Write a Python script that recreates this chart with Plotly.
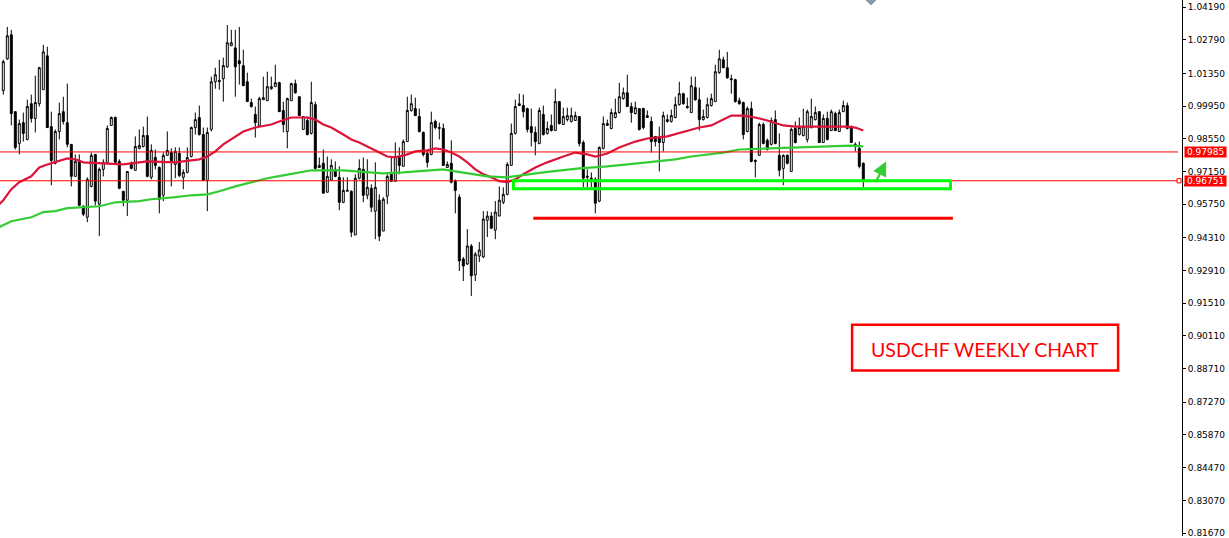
import plotly.graph_objects as go

# ---------------- data (USDCHF weekly) ----------------
opens = [
    1.0061, 1.0197, 1.0300, 0.9971, 0.9835, 0.9924, 0.9852, 1.0005, 0.9942, 1.0005,
    1.0065, 1.0210, 0.9907, 0.9750, 0.9886, 0.9971, 0.9924, 0.9831, 0.9694, 0.9762,
    0.9566, 0.9519, 0.9651, 0.9788, 0.9575, 0.9724, 0.9754, 0.9912, 0.9946, 0.9758,
    0.9630, 0.9592, 0.9750, 0.9720, 0.9814, 0.9822, 0.9869, 0.9690, 0.9775, 0.9732,
    0.9613, 0.9784, 0.9796, 0.9745, 0.9792, 0.9690, 0.9711, 0.9779, 0.9903, 0.9946,
    0.9873, 0.9677, 0.9895, 1.0099, 1.0099, 1.0112, 1.0163, 1.0253, 1.0244, 1.0189,
    1.0168, 1.0099, 1.0010, 0.9959, 0.9912, 1.0022, 1.0018, 1.0069, 1.0078, 1.0095,
    0.9976, 0.9886, 1.0018, 1.0091, 1.0035, 0.9895, 0.9933, 0.9878, 1.0001, 0.9732,
    0.9750, 0.9626, 0.9677, 0.9724, 0.9690, 0.9583, 0.9630, 0.9630, 0.9443, 0.9686,
    0.9724, 0.9613, 0.9643, 0.9545, 0.9592, 0.9460, 0.9609, 0.9703, 0.9673, 0.9775,
    0.9737, 0.9843, 0.9976, 0.9984, 0.9950, 0.9882, 0.9792, 0.9788, 0.9929, 0.9899,
    0.9899, 0.9732, 0.9750, 0.9673, 0.9605, 0.9340, 0.9319, 0.9396, 0.9272, 0.9353,
    0.9349, 0.9506, 0.9524, 0.9464, 0.9524, 0.9583, 0.9617, 0.9741, 0.9878, 0.9997,
    0.9997, 0.9984, 0.9907, 0.9882, 0.9835, 0.9959, 0.9878, 0.9912, 0.9890, 1.0014,
    0.9916, 0.9937, 0.9929, 0.9933, 0.9950, 0.9839, 0.9690, 0.9681, 0.9681, 0.9588,
    0.9814, 0.9912, 0.9899, 0.9946, 0.9967, 1.0027, 1.0052, 0.9993, 0.9963, 0.9984,
    0.9984, 0.9946, 0.9929, 0.9865, 0.9860, 0.9839, 0.9929, 0.9929, 0.9946, 1.0001,
    1.0048, 0.9988, 0.9967, 1.0074, 1.0022, 0.9937, 0.9946, 0.9997, 1.0014, 1.0138,
    1.0193, 1.0159, 1.0112, 1.0108, 1.0018, 1.0010, 0.9886, 0.9984, 0.9762, 0.9784,
    0.9916, 0.9848, 0.9831, 0.9937, 0.9784, 0.9728, 0.9784, 0.9715, 0.9899, 0.9873,
    0.9869, 0.9852, 0.9903, 0.9937, 0.9971, 0.9839, 0.9942, 0.9890, 0.9963, 0.9886,
    0.9971, 0.9997, 0.9907, 0.9831, 0.9814, 0.9750,
]
highs = [
    1.0193, 1.0334, 1.0321, 0.9971, 0.9937, 0.9967, 1.0022, 1.0044, 1.0125, 1.0163,
    1.0257, 1.0249, 0.9971, 0.9895, 1.0010, 1.0035, 1.0091, 0.9831, 0.9788, 0.9788,
    0.9570, 0.9690, 0.9796, 0.9788, 0.9732, 0.9767, 0.9912, 0.9950, 0.9950, 0.9767,
    0.9630, 0.9715, 0.9758, 0.9865, 0.9895, 0.9907, 0.9950, 0.9831, 0.9809, 0.9737,
    0.9796, 0.9886, 0.9814, 0.9818, 0.9818, 0.9724, 0.9818, 0.9907, 0.9967, 0.9997,
    0.9903, 0.9903, 1.0121, 1.0159, 1.0193, 1.0202, 1.0342, 1.0321, 1.0321, 1.0334,
    1.0236, 1.0138, 1.0027, 0.9993, 1.0035, 1.0121, 1.0142, 1.0121, 1.0172, 1.0099,
    1.0014, 1.0031, 1.0095, 1.0108, 1.0035, 0.9950, 0.9950, 1.0099, 1.0014, 0.9775,
    0.9809, 0.9779, 0.9767, 0.9758, 0.9737, 0.9690, 0.9690, 0.9634, 0.9703, 0.9767,
    0.9775, 0.9767, 0.9660, 0.9754, 0.9617, 0.9605, 0.9703, 0.9775, 0.9839, 0.9818,
    0.9852, 1.0035, 1.0044, 1.0031, 0.9984, 0.9886, 0.9801, 0.9971, 0.9937, 0.9924,
    0.9920, 0.9758, 0.9848, 0.9681, 0.9617, 0.9349, 0.9468, 0.9404, 0.9370, 0.9413,
    0.9545, 0.9545, 0.9541, 0.9588, 0.9651, 0.9647, 0.9754, 0.9920, 1.0022, 1.0048,
    1.0044, 0.9988, 0.9984, 0.9907, 0.9988, 0.9997, 0.9929, 0.9959, 1.0069, 1.0014,
    0.9988, 0.9988, 0.9988, 0.9971, 0.9950, 0.9848, 0.9724, 0.9711, 0.9690, 0.9822,
    0.9950, 0.9937, 0.9984, 1.0027, 1.0095, 1.0074, 1.0129, 1.0010, 1.0014, 0.9984,
    0.9988, 0.9976, 0.9950, 0.9865, 0.9907, 0.9971, 0.9959, 0.9980, 1.0035, 1.0099,
    1.0052, 1.0031, 1.0121, 1.0121, 1.0074, 0.9980, 1.0031, 1.0048, 1.0172, 1.0236,
    1.0206, 1.0227, 1.0129, 1.0112, 1.0031, 1.0014, 0.9993, 1.0014, 0.9767, 0.9924,
    0.9924, 0.9856, 0.9946, 0.9976, 0.9878, 0.9788, 0.9788, 0.9903, 0.9929, 0.9946,
    0.9984, 0.9980, 1.0027, 0.9993, 0.9971, 0.9959, 0.9971, 0.9980, 0.9971, 0.9980,
    1.0018, 1.0010, 0.9912, 0.9839, 0.9843, 0.9754,
]
lows = [
    1.0044, 1.0193, 0.9912, 0.9809, 0.9788, 0.9843, 0.9848, 0.9924, 0.9882, 0.9993,
    1.0065, 0.9903, 0.9656, 0.9745, 0.9852, 0.9916, 0.9818, 0.9651, 0.9694, 0.9566,
    0.9524, 0.9498, 0.9647, 0.9570, 0.9438, 0.9694, 0.9754, 0.9912, 0.9745, 0.9639,
    0.9566, 0.9524, 0.9724, 0.9720, 0.9809, 0.9818, 0.9690, 0.9681, 0.9724, 0.9536,
    0.9588, 0.9784, 0.9651, 0.9686, 0.9690, 0.9639, 0.9707, 0.9775, 0.9873, 0.9869,
    0.9677, 0.9545, 0.9886, 1.0069, 1.0065, 1.0014, 1.0159, 1.0253, 1.0035, 1.0087,
    1.0082, 1.0014, 0.9988, 0.9860, 0.9912, 1.0022, 1.0018, 1.0065, 1.0078, 0.9971,
    0.9882, 0.9814, 1.0018, 1.0048, 0.9954, 0.9895, 0.9869, 0.9873, 0.9724, 0.9732,
    0.9622, 0.9626, 0.9677, 0.9690, 0.9549, 0.9579, 0.9630, 0.9434, 0.9443, 0.9681,
    0.9583, 0.9596, 0.9541, 0.9425, 0.9417, 0.9460, 0.9575, 0.9673, 0.9673, 0.9703,
    0.9737, 0.9843, 0.9971, 0.9954, 0.9882, 0.9779, 0.9732, 0.9784, 0.9895, 0.9852,
    0.9741, 0.9732, 0.9664, 0.9536, 0.9289, 0.9246, 0.9315, 0.9182, 0.9246, 0.9327,
    0.9344, 0.9434, 0.9468, 0.9425, 0.9524, 0.9575, 0.9613, 0.9741, 0.9873, 0.9997,
    0.9946, 0.9882, 0.9822, 0.9784, 0.9831, 0.9869, 0.9873, 0.9886, 0.9890, 0.9916,
    0.9916, 0.9929, 0.9924, 0.9933, 0.9822, 0.9647, 0.9647, 0.9647, 0.9536, 0.9583,
    0.9809, 0.9912, 0.9895, 0.9942, 0.9963, 1.0022, 0.9993, 0.9924, 0.9959, 0.9890,
    0.9895, 0.9946, 0.9796, 0.9822, 0.9715, 0.9801, 0.9924, 0.9924, 0.9942, 0.9997,
    1.0001, 0.9984, 0.9967, 1.0018, 0.9890, 0.9933, 0.9942, 0.9993, 1.0014, 1.0133,
    1.0159, 1.0112, 1.0048, 1.0010, 1.0001, 0.9852, 0.9882, 0.9754, 0.9690, 0.9784,
    0.9831, 0.9805, 0.9826, 0.9831, 0.9694, 0.9656, 0.9745, 0.9715, 0.9835, 0.9869,
    0.9865, 0.9839, 0.9899, 0.9933, 0.9839, 0.9839, 0.9848, 0.9890, 0.9890, 0.9886,
    0.9971, 0.9895, 0.9839, 0.9801, 0.9728, 0.9647,
]
closes = [
    1.0185, 1.0296, 0.9963, 0.9818, 0.9920, 0.9878, 0.9993, 0.9942, 1.0010, 1.0159,
    1.0227, 0.9903, 0.9762, 0.9886, 0.9963, 0.9929, 0.9831, 0.9694, 0.9758, 0.9570,
    0.9532, 0.9681, 0.9784, 0.9588, 0.9724, 0.9754, 0.9899, 0.9946, 0.9754, 0.9643,
    0.9592, 0.9715, 0.9728, 0.9822, 0.9826, 0.9869, 0.9694, 0.9805, 0.9741, 0.9596,
    0.9784, 0.9805, 0.9754, 0.9801, 0.9698, 0.9711, 0.9775, 0.9903, 0.9937, 0.9873,
    0.9677, 0.9882, 1.0099, 1.0129, 1.0104, 1.0168, 1.0266, 1.0266, 1.0163, 1.0176,
    1.0082, 1.0014, 0.9993, 0.9924, 1.0027, 1.0031, 1.0078, 1.0078, 1.0095, 0.9971,
    0.9916, 1.0027, 1.0091, 1.0052, 0.9954, 0.9950, 0.9873, 1.0010, 0.9728, 0.9741,
    0.9622, 0.9694, 0.9741, 0.9694, 0.9583, 0.9634, 0.9634, 0.9455, 0.9686, 0.9728,
    0.9613, 0.9647, 0.9562, 0.9647, 0.9438, 0.9596, 0.9694, 0.9673, 0.9779, 0.9741,
    0.9843, 0.9976, 1.0005, 0.9954, 0.9886, 0.9788, 0.9754, 0.9924, 0.9903, 0.9903,
    0.9741, 0.9745, 0.9669, 0.9634, 0.9332, 0.9310, 0.9396, 0.9268, 0.9361, 0.9379,
    0.9511, 0.9524, 0.9472, 0.9541, 0.9592, 0.9617, 0.9745, 0.9878, 0.9993, 1.0005,
    0.9971, 0.9895, 0.9882, 0.9843, 0.9976, 0.9873, 0.9899, 0.9890, 1.0014, 0.9920,
    0.9950, 0.9954, 0.9954, 0.9954, 0.9835, 0.9686, 0.9694, 0.9686, 0.9579, 0.9818,
    0.9920, 0.9920, 0.9967, 0.9967, 1.0035, 1.0052, 0.9993, 0.9967, 0.9988, 0.9895,
    0.9903, 0.9954, 0.9843, 0.9843, 0.9839, 0.9954, 0.9937, 0.9954, 1.0001, 1.0048,
    1.0005, 0.9993, 1.0082, 1.0022, 0.9937, 0.9950, 1.0001, 1.0027, 1.0142, 1.0197,
    1.0159, 1.0116, 1.0108, 1.0014, 1.0005, 0.9873, 0.9984, 0.9758, 0.9758, 0.9916,
    0.9835, 0.9809, 0.9933, 0.9835, 0.9720, 0.9784, 0.9750, 0.9895, 0.9839, 0.9903,
    0.9907, 0.9971, 0.9950, 0.9967, 0.9839, 0.9942, 0.9852, 0.9971, 0.9890, 0.9967,
    0.9997, 0.9899, 0.9839, 0.9822, 0.9737, 0.96751,
]
bars = list(range(len(opens)))

# slow (red) and long (green) moving averages, read at selected bars
red_ma_bar = [-1, 0, 2, 4, 7, 9, 11, 14, 16, 18, 20, 30, 36, 43, 49, 51, 53, 55, 58, 60,
              63, 67, 69, 72, 76, 78, 80, 82, 85, 87, 89, 91, 94, 96, 98, 101, 103, 106,
              108, 110, 112, 114, 116, 118, 120, 122, 124, 126, 128, 130, 133, 136, 140,
              143, 146, 148, 151, 154, 158, 161, 166, 171, 174, 177, 180, 182, 185, 188,
              191, 195, 198, 211, 213, 215]
red_ma_val = [0.9575, 0.9592, 0.9639, 0.9669, 0.9694, 0.9732, 0.9745, 0.9762, 0.9771, 0.9767,
              0.9754, 0.9745, 0.9758, 0.9754, 0.9767, 0.9779, 0.9801, 0.9831, 0.9865, 0.9886,
              0.9903, 0.9916, 0.9929, 0.9946, 0.9946, 0.9937, 0.9916, 0.9903, 0.9873, 0.9852,
              0.9839, 0.9822, 0.9796, 0.9779, 0.9775, 0.9788, 0.9801, 0.9805, 0.9814, 0.9809,
              0.9796, 0.9779, 0.9754, 0.9724, 0.9703, 0.9690, 0.9673, 0.9669, 0.9681, 0.9703,
              0.9732, 0.9754, 0.9779, 0.9796, 0.9788, 0.9779, 0.9792, 0.9818, 0.9843, 0.9856,
              0.9865, 0.9890, 0.9903, 0.9912, 0.9937, 0.9954, 0.9954, 0.9946, 0.9933, 0.9912,
              0.9907, 0.9907, 0.9903, 0.9890]
green_ma_bar = [-1, 0, 2, 7, 10, 13, 16, 24, 28, 34, 37, 43, 47, 51, 54, 58, 62, 66, 70, 73,
                77, 85, 90, 95, 100, 106, 110, 113, 117, 121, 126, 129, 135, 144, 151, 161,
                168, 172, 180, 184, 191, 198, 206, 212, 215]
green_ma_val = [0.9477, 0.9485, 0.9502, 0.9519, 0.9541, 0.9545, 0.9558, 0.9566, 0.9583, 0.9588,
                0.9596, 0.9605, 0.9613, 0.9617, 0.9630, 0.9651, 0.9669, 0.9686, 0.9698, 0.9707,
                0.9720, 0.9720, 0.9715, 0.9707, 0.9711, 0.9720, 0.9724, 0.9715, 0.9703, 0.9694,
                0.9690, 0.9698, 0.9711, 0.9728, 0.9737, 0.9754, 0.9767, 0.9779, 0.9796, 0.9809,
                0.9814, 0.9818, 0.9822, 0.9826, 0.9822]

tick_vals = [1.04190, 1.02790, 1.01350, 0.99950, 0.98550, 0.97150, 0.95750, 0.94310,
             0.92910, 0.91510, 0.90110, 0.88710, 0.87270, 0.85870, 0.84470, 0.83070, 0.81670]
tick_text = ["%.5f" % v for v in tick_vals]

level_line = 0.97985
price_line = 0.96751
support_zone = (0.96408, 0.96749)
support_zone_bars = (127.55, 236.8)
target_line = 0.95150
target_bars = (132.5, 237.4)

# ---------------- figure ----------------
W, H = 1229, 538
R = 47
PW = W - R  # plot width in px

fig = go.Figure()
fig.add_trace(go.Candlestick(
    x=bars, open=opens, high=highs, low=lows, close=closes,
    increasing=dict(fillcolor="#ffffff", line=dict(color="#000000", width=1)),
    decreasing=dict(fillcolor="#000000", line=dict(color="#000000", width=1)),
    whiskerwidth=0, hoverinfo="skip", showlegend=False,
))
fig.add_trace(go.Scatter(x=red_ma_bar, y=red_ma_val, mode="lines",
                         line=dict(color="#dc143c", width=2.2), hoverinfo="skip", showlegend=False))
fig.add_trace(go.Scatter(x=green_ma_bar, y=green_ma_val, mode="lines",
                         line=dict(color="#32cd32", width=2.2), hoverinfo="skip", showlegend=False))

def px_x(p):
    return p / PW

shapes = []
# horizontal levels
for lv in (level_line, price_line):
    shapes.append(dict(type="line", xref="paper", yref="y", x0=0, x1=px_x(1178), y0=lv, y1=lv,
                       line=dict(color="#ff0000", width=1), layer="above"))
# small square on price line near axis
shapes.append(dict(type="rect", xref="paper", yref="y", x0=px_x(1177), x1=px_x(1181),
                   y0=price_line - 0.0009, y1=price_line + 0.0009,
                   line=dict(color="#ff0000", width=1), fillcolor="#ffffff"))
# support zone (green box)
shapes.append(dict(type="rect", xref="x", yref="y",
                   x0=support_zone_bars[0], x1=support_zone_bars[1],
                   y0=support_zone[0], y1=support_zone[1],
                   line=dict(color="#00ff00", width=3), fillcolor="rgba(0,0,0,0)"))
# target line (red)
shapes.append(dict(type="line", xref="x", yref="y", x0=target_bars[0], x1=target_bars[1],
                   y0=target_line, y1=target_line, line=dict(color="#ff0000", width=3)))
# title box
shapes.append(dict(type="rect", xref="x", yref="y", x0=212.2, x1=278.7, y0=0.88624, y1=0.90586,
                   line=dict(color="#ff0000", width=2.5), fillcolor="rgba(0,0,0,0)"))
# small chevron marker at top
shapes.append(dict(type="path", xref="paper", yref="paper",
                   path="M %f 1 L %f %f L %f 1 Z" % (px_x(866), px_x(871), 1 - 5 / H, px_x(876)),
                   line=dict(color="#8a9bb0", width=1), fillcolor="#8a9bb0"))
# black underline of current price tag
shapes.append(dict(type="line", xref="paper", yref="y", x0=px_x(1184), x1=px_x(1225),
                   y0=0.96557, y1=0.96557, line=dict(color="#000000", width=1.5)))

annotations = [
    dict(xref="paper", yref="y", x=px_x(1184), y=level_line, xanchor="left", yanchor="middle",
         text="0.97985", showarrow=False, bgcolor="#ff0000", font=dict(color="#ffffff", size=9,
         family="DejaVu Sans"), width=41, height=10, borderpad=0),
    dict(xref="paper", yref="y", x=px_x(1184), y=price_line, xanchor="left", yanchor="middle",
         text="0.96751", showarrow=False, bgcolor="#ff0000", font=dict(color="#ffffff", size=9,
         family="DejaVu Sans"), width=41, height=10, borderpad=0),
    dict(xref="x", yref="y", x=245.4, y=0.89541, text="USDCHF WEEKLY CHART", showarrow=False,
         font=dict(color="#ff0000", size=19.5, family="Lato"), xanchor="center", yanchor="middle"),
    dict(xref="x", yref="y", x=220.7, y=0.97581, ax=-11, ay=22, text="", showarrow=True,
         arrowhead=2, arrowsize=1.3, arrowwidth=2.2, arrowcolor="#33cc33", axref="pixel", ayref="pixel"),
]

fig.update_layout(
    width=W, height=H,
    margin=dict(l=0, r=R, t=0, b=0, pad=0),
    paper_bgcolor="#ffffff", plot_bgcolor="#ffffff",
    showlegend=False, hovermode=False,
    xaxis=dict(range=[-0.825, 294.675], visible=False, rangeslider=dict(visible=False),
               showgrid=False, zeroline=False, fixedrange=True),
    yaxis=dict(range=[0.81544, 1.0449], side="right", showgrid=False, zeroline=False,
               showline=True, linecolor="#000000", linewidth=1, ticks="outside", ticklen=3,
               tickcolor="#000000", tickvals=tick_vals, ticktext=tick_text,
               ticklabeloverflow="allow",
               tickfont=dict(family="DejaVu Sans", size=9, color="#000000"), fixedrange=True),
    shapes=shapes, annotations=annotations,
)

fig.write_html("out.html", config={"displayModeBar": False},
               post_script="document.body.style.margin='0';document.body.style.overflow='hidden';")
